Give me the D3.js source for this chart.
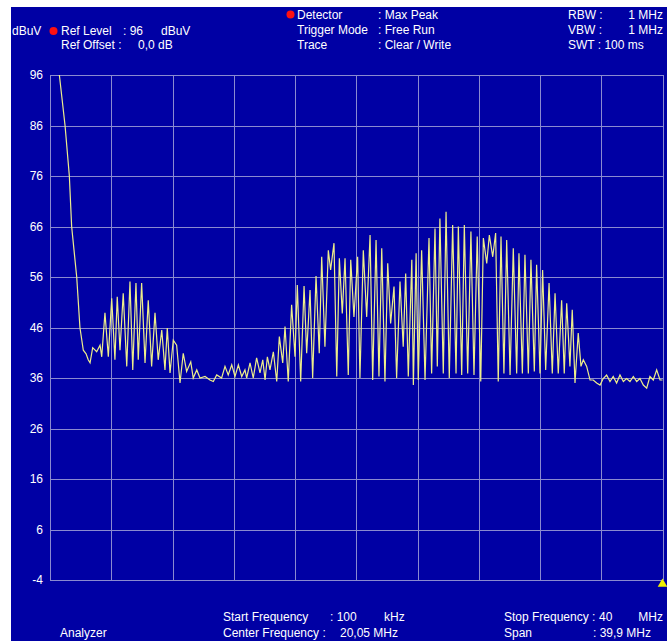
<!DOCTYPE html>
<html>
<head>
<meta charset="utf-8">
<script src="https://cdn.jsdelivr.net/npm/d3@7"></script>
<style>
  body { margin: 0; background: #fff; }
  svg text { font-family: "Liberation Sans", Arial, sans-serif; font-size: 12px; fill: #fff; }
</style>
</head>
<body>
<script>
// trace: frequency (MHz) and level (dBuV)
var freqMHz = [
  0.71, 1.08, 1.36, 1.51, 1.84, 2.05, 2.27, 2.45, 2.59, 2.71, 2.88, 3.14, 3.36, 3.47,
  3.68, 3.90, 4.12, 4.33, 4.48, 4.66, 4.87, 5.10, 5.31, 5.49, 5.70, 5.85, 6.07, 6.29,
  6.50, 6.72, 6.94, 7.15, 7.38, 7.59, 7.74, 7.92, 8.13, 8.35, 8.57, 8.78, 9.00, 9.27,
  9.43, 9.66, 9.87, 10.20, 10.52, 10.74, 10.96, 11.28, 11.50, 11.71, 11.94, 12.15, 12.37,
  12.59, 12.80, 12.91, 13.13, 13.34, 13.56, 13.78, 13.96, 14.11, 14.26, 14.43, 14.65,
  14.87, 15.04, 15.26, 15.41, 15.62, 15.84, 16.06, 16.21, 16.43, 16.65, 16.82, 17.04,
  17.21, 17.43, 17.64, 17.80, 18.01, 18.23, 18.38, 18.60, 18.78, 18.95, 19.14, 19.32,
  19.53, 19.69, 19.90, 20.14, 20.29, 20.51, 20.73, 20.95, 21.12, 21.34, 21.53, 21.71,
  21.92, 22.10, 22.29, 22.51, 22.68, 22.90, 23.11, 23.27, 23.44, 23.67, 23.77, 23.95,
  24.09, 24.31, 24.53, 24.79, 24.96, 25.18, 25.33, 25.50, 25.72, 25.90, 26.11, 26.33,
  26.55, 26.70, 26.92, 27.09, 27.31, 27.52, 27.72, 27.93, 28.16, 28.33, 28.55, 28.72,
  28.94, 29.13, 29.30, 29.48, 29.67, 29.85, 30.07, 30.28, 30.50, 30.65, 30.87, 31.04,
  31.26, 31.43, 31.65, 31.80, 32.02, 32.19, 32.39, 32.61, 32.82, 33.00, 33.21, 33.43,
  33.60, 33.76, 33.97, 34.12, 34.30, 34.51, 34.69, 34.84, 35.06, 35.28, 35.49, 35.71,
  35.93, 36.14, 36.36, 36.58, 36.79, 37.01, 37.23, 37.45, 37.66, 37.88, 38.10, 38.32,
  38.53, 38.75, 38.97, 39.18, 39.40, 39.62, 39.84, 40.00
];
var levelDbuV = [
  96, 86, 76, 66, 56, 46, 41.5, 40.8, 39.6, 39.0, 42, 41.2, 42.5, 40.2,
  48.9, 40.2, 51.8, 39.6, 52.1, 41.5, 52.8, 38.3, 55.1, 37.6, 54.8, 39.6, 54.8, 39,
  51.4, 38.3, 48.9, 39.6, 45.5, 37.6, 45.9, 37, 43.5, 42.5, 35, 40.9, 37.3, 39.2,
  36, 37.6, 36, 36.3, 35.6, 35.3, 36.6, 36, 38.3, 36.6, 38.6, 36.3, 38.6,
  36.3, 37.6, 36, 39, 36, 40, 37, 39.6, 35.6, 40.2, 37.6, 41.2,
  35.3, 44.2, 39, 46.2, 35.3, 50.5, 40.2, 54.4, 35.3, 54.2, 40.9, 53.4,
  36, 56.2, 40.9, 60, 42.2, 61.3, 57.4, 62.7, 36.3, 59.7, 48.8, 59.7,
  36.6, 59.4, 48.1, 60, 36, 61.3, 48.1, 64.3, 35.6, 63.3, 36.3, 61.7,
  35.3, 58.7, 46.8, 54.1, 36, 55.1, 42.2, 56.7, 36.3, 59.4, 34.6, 60.7,
  35.6, 61.3, 35.6, 63.7, 36.9, 65.6, 38.3, 67.6, 36.9, 68.9, 36, 66.3,
  36.9, 66, 36.6, 66.3, 36.9, 65, 36.6, 64, 35.3, 63.7, 58.7, 64.3,
  60, 64.7, 35.3, 64, 36.9, 63.3, 36.6, 61.7, 36.9, 60.7, 36.9, 60.4,
  36.9, 59.4, 37.3, 58.4, 36.9, 57.4, 37.6, 54.8, 36.9, 52.8, 36.9, 51.4,
  36.9, 50.8, 38.3, 49.5, 35, 44.9, 38.3, 39.6, 38.3, 35.6, 35.6, 35,
  34.6, 35.9, 36.6, 35.3, 36.3, 35, 36.6, 35.3, 35.9, 35.3, 36.3, 35.3,
  35.9, 34.6, 34, 36.3, 35.6, 37.6, 35.6, 35.6
];
var yTicks = [96, 86, 76, 66, 56, 46, 36, 26, 16, 6, -4];
var startMHz = 0.1, stopMHz = 40;

var W = 667, H = 641;
var margin = { top: 75, left: 50 };
var width = 612.5, height = 505;

var svg = d3.select('body').append('svg')
  .attr('width', W)
  .attr('height', H);

// blue screen, white strip top/left
svg.append('rect').attr('x', 11).attr('y', 7).attr('width', W - 11).attr('height', H - 7)
  .attr('fill', '#0000a4');

var g = svg.append('g')
  .attr('transform', 'translate(' + margin.left + ',' + margin.top + ')');

var x = d3.scaleLinear().domain([startMHz, stopMHz]).range([0, width]);
var y = d3.scaleLinear().domain([-4, 96]).range([height, 0]);

// grid: 10 divisions across the span
var xGrid = d3.range(0, 11).map(function(i) { return startMHz + i * (stopMHz - startMHz) / 10; });

g.append('g')
  .attr('class', 'grid')
  .attr('transform', 'translate(0,' + height + ')')
  .call(d3.axisBottom(x).tickValues(xGrid).tickSize(-height).tickFormat(''))
  .call(function(a) { a.select('.domain').remove(); });

g.append('g')
  .attr('class', 'grid')
  .call(d3.axisLeft(y).tickValues(yTicks).tickSize(-width).tickPadding(7).tickFormat(String))
  .call(function(a) { a.select('.domain').remove(); });

g.selectAll('.grid line')
  .attr('stroke', '#8a8ad0')
  .attr('stroke-width', 1)
  .attr('shape-rendering', 'crispEdges');
g.selectAll('.grid text')
  .attr('fill', '#fff')
  .style('font-size', '12px');

// the trace
var pts = freqMHz.map(function(f, i) { return [f, levelDbuV[i]]; });
g.append('path')
  .datum(pts)
  .attr('d', d3.line()
    .x(function(d) { return x(d[0]); })
    .y(function(d) { return y(d[1]); })
  )
  .attr('fill', 'none')
  .attr('stroke', '#eeee8a')
  .attr('stroke-width', 1.2);

// marker at stop frequency
svg.append('path')
  .attr('d', d3.symbol().type(d3.symbolTriangle).size(40)())
  .attr('transform', 'translate(' + (margin.left + x(stopMHz)) + ',' + (margin.top + height + 4) + ')')
  .attr('fill', '#f0f000');

// header texts
function txt(s, px, py, anchor) {
  svg.append('text').attr('x', px).attr('y', py)
    .attr('text-anchor', anchor || 'start').text(s);
}
function dot(px, py) {
  svg.append('circle').attr('cx', px).attr('cy', py).attr('r', 4).attr('fill', '#ff1010');
}

dot(290.5, 14.5);
txt('Detector', 297, 19);
txt(': Max Peak', 378, 19);
txt('Trigger Mode', 297, 34);
txt(': Free Run', 378, 34);
txt('Trace', 297, 49);
txt(': Clear / Write', 378, 49);

txt('dBuV', 12, 35);
dot(53.5, 31);
txt('Ref Level', 61, 35);
txt(': 96', 123, 35);
txt('dBuV', 161, 35);
txt('Ref Offset :', 61, 49);
txt('0,0 dB', 138, 49);

txt('RBW :', 568, 19);
txt('1 MHz', 663, 19, 'end');
txt('VBW :', 568, 34);
txt('1 MHz', 663, 34, 'end');
txt('SWT : 100 ms', 568, 49);

// footer texts
txt('Start Frequency', 223, 621);
txt(': 100', 330, 621);
txt('kHz', 384, 621);
txt('Center Frequency :', 223, 637);
txt('20,05 MHz', 340, 637);
txt('Analyzer', 60, 637);
txt('Stop Frequency :', 504, 621);
txt('40', 599, 621);
txt('MHz', 663, 621, 'end');
txt('Span', 504, 637);
txt(': 39,9 MHz', 593, 637);
</script>
</body>
</html>
